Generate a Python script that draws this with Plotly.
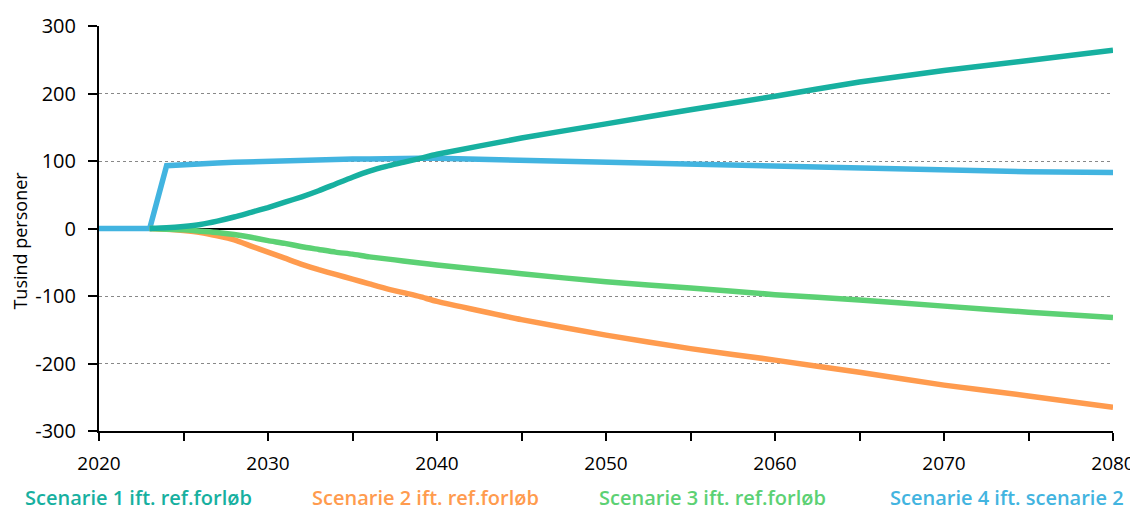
import plotly.graph_objects as go

years = [2020, 2021, 2022, 2023, 2024, 2025, 2026, 2027, 2028, 2029, 2030, 2031, 2032, 2033,
         2034, 2035, 2036, 2037, 2038, 2039, 2040, 2045, 2050, 2055, 2060, 2065, 2070, 2075, 2080]
scen1 = [None, None, None, 0, 1, 3, 6, 11, 17, 24, 31, 39, 47, 56,
         66, 76, 85, 92, 98, 104, 110, 134, 155, 176, 196, 217, 234, 249, 264]
scen2 = [None, None, None, 0, -1, -3, -6, -11, -17, -26, -35, -44, -53, -61,
         -68, -75, -82, -89, -95, -101, -108, -135, -158, -178, -195, -213, -232, -248, -265]
scen3 = [None, None, None, 0, -1, -2, -4, -6, -9, -13, -18, -22, -27, -31,
         -35, -38, -42, -45, -48, -51, -54, -67, -79, -88, -98, -106, -115, -124, -132]
scen4 = [0, 0, 0, 0, 93, 95, 96, 97, 98, 99, 100, 101, 102, 102,
         103, 103, 103, 104, 104, 104, 104, 101, 98, 95, 92, 88, 86, 84, 83]

names = ["Scenarie 1 ift. ref.forløb", "Scenarie 2 ift. ref.forløb",
         "Scenarie 3 ift. ref.forløb", "Scenarie 4 ift. scenarie 2"]
colors = ["#17B0A0", "#FF9B4E", "#5CD174", "#42B4E0"]

x_tickvals = list(range(2020, 2081, 5))
x_ticktext = [str(v) if v % 10 == 0 else "" for v in x_tickvals]
y_tickvals = [-300, -200, -100, 0, 100, 200, 300]
y_ticktext = [str(v) for v in y_tickvals]

font = "Open Sans"
fig = go.Figure()
order = [3, 1, 2, 0]
series = [scen1, scen2, scen3, scen4]
for i in order:
    shape = "linear" if i == 3 else "spline"
    line = dict(color=colors[i], width=5.5, shape=shape)
    if shape == "spline":
        line["smoothing"] = 0.5
    fig.add_trace(go.Scatter(x=years, y=series[i], mode="lines", name=names[i],
                             line=line, showlegend=False, connectgaps=False))

leg_x = [-0.075, 0.2081, 0.4911, 0.7781]
for i in range(4):
    fig.add_annotation(x=leg_x[i], y=-0.202, xref="paper", yref="paper",
                       xanchor="left", yanchor="bottom", showarrow=False,
                       text=names[i], font=dict(family=font, size=20, color=colors[i], weight=600))

fig.add_annotation(x=-0.078, y=0.47, xref="paper", yref="paper", textangle=-90,
                   xanchor="center", yanchor="middle", showarrow=False,
                   text="Tusind personer", font=dict(family=font, size=18, color="#000000"))

fig.update_layout(
    width=1130, height=505,
    margin=dict(l=91, r=25, t=18, b=82, autoexpand=False),
    plot_bgcolor="white", paper_bgcolor="white",
    font=dict(family=font, size=20, color="#000000"),
    xaxis=dict(range=[2020, 2080], tickvals=x_tickvals, ticktext=x_ticktext,
               showline=True, linecolor="black", linewidth=2, ticks="outside",
               ticklen=8, tickwidth=2, tickcolor="black", showgrid=False, zeroline=False,
               tickfont=dict(size=19), ticklabelstandoff=6, automargin=False),
    yaxis=dict(range=[-300, 300], tickvals=y_tickvals, ticktext=y_ticktext,
               showline=True, linecolor="black", linewidth=2, ticks="outside",
               ticklen=9, tickwidth=2, tickcolor="black",
               showgrid=True, gridcolor="#888888", griddash="dot", gridwidth=1,
               zeroline=True, zerolinecolor="black", zerolinewidth=2,
               tickfont=dict(size=20), ticklabelstandoff=8, automargin=False),
)

fig.write_html("out.html")
